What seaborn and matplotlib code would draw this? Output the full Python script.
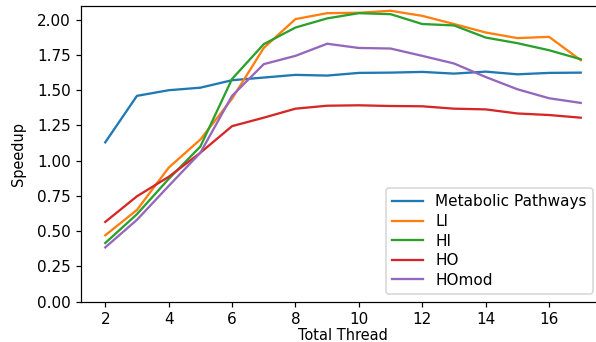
import pandas as pd
import matplotlib
matplotlib.use("Agg")
import matplotlib.pyplot as plt
import seaborn as sns

# threads (x axis)
hilos = list(range(2, 18))

metabolic = [1.13, 1.46, 1.50, 1.518, 1.571, 1.59, 1.609, 1.604, 1.623, 1.625,
             1.63, 1.618, 1.632, 1.613, 1.623, 1.625]
li = [0.47, 0.65, 0.95, 1.15, 1.44, 1.80, 2.005, 2.047, 2.05, 2.064,
      2.028, 1.97, 1.91, 1.87, 1.879, 1.713]
hi = [0.415, 0.62, 0.87, 1.10, 1.58, 1.827, 1.945, 2.01, 2.047, 2.04,
      1.97, 1.96, 1.874, 1.834, 1.784, 1.72]
ho = [0.565, 0.747, 0.885, 1.056, 1.245, 1.305, 1.369, 1.39, 1.393, 1.388,
      1.386, 1.369, 1.364, 1.335, 1.324, 1.305]
homod = [0.384, 0.58, 0.82, 1.056, 1.46, 1.685, 1.744, 1.83, 1.80, 1.796,
         1.744, 1.69, 1.594, 1.507, 1.443, 1.41]

series = {
    "Metabolic Pathways": metabolic,
    "LI": li,
    "HI": hi,
    "HO": ho,
    "HOmod": homod,
}

filas = []
for nombre, valores in series.items():
    for t, v in zip(hilos, valores):
        filas.append({"Total Thread": t, "Speedup": v, "Serie": nombre})
df = pd.DataFrame(filas)

DPI = 110
fig = plt.figure(figsize=(596 / DPI, 342 / DPI), dpi=DPI)
# the original is cropped on the right, so the axes run past the figure edge
ax = fig.add_axes([0.1367, 0.1184, 1.0143 - 0.1367, 0.9833 - 0.1184])
sns.lineplot(data=df, x="Total Thread", y="Speedup", hue="Serie",
             palette="tab10", ax=ax, linewidth=1.5)

ax.set_ylim(0, 2.10)
ax.set_xlim(1.25, 17.75)
ax.set_xticks(range(2, 17, 2))
ax.set_yticks([0, 0.25, 0.5, 0.75, 1.0, 1.25, 1.5, 1.75, 2.0])
ax.set_yticklabels([f"{v:.2f}" for v in ax.get_yticks()])
ax.set_xlabel("Total Thread", fontsize=9.5, labelpad=0.5)
ax.set_ylabel("Speedup", fontsize=9.5, labelpad=7)
ax.legend(loc="lower right", bbox_to_anchor=(600.5 / 596, 0.1184),
          bbox_transform=fig.transFigure, labelspacing=0.3)

fig.savefig("out.png", dpi=DPI)
